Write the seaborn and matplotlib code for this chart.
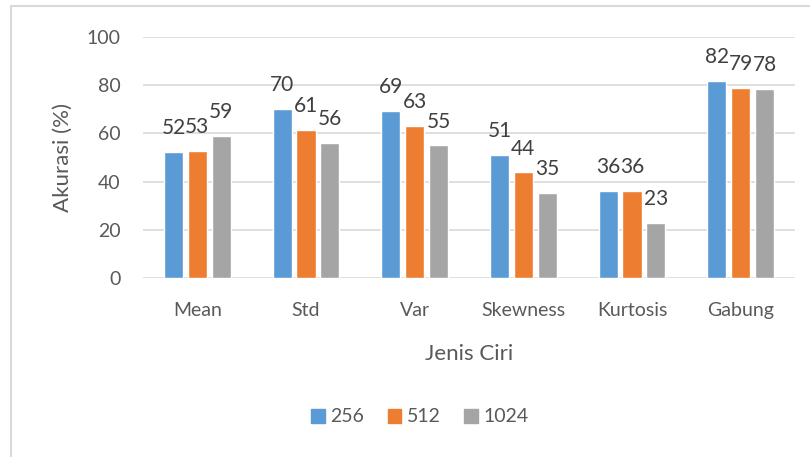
import pandas as pd
import matplotlib.pyplot as plt
import seaborn as sns
from matplotlib.patches import Rectangle

# Data
jenis_ciri = ['Mean', 'Std', 'Var', 'Skewness', 'Kurtosis', 'Gabung']
akurasi_256 = [52.3, 70.0, 69.4, 51.0, 36.2, 81.8]
akurasi_512 = [52.8, 61.4, 63.0, 43.8, 36.2, 79.0]
akurasi_1024 = [58.9, 56.1, 55.0, 35.2, 22.7, 78.4]
seri = ['256', '512', '1024']
warna = ['#5b9bd5', '#ed7d31', '#a5a5a5']

df = pd.DataFrame({
    'Jenis Ciri': jenis_ciri * 3,
    'Seri': [s for s in seri for _ in jenis_ciri],
    'Akurasi': akurasi_256 + akurasi_512 + akurasi_1024,
})

sns.set_style('white')
plt.rcParams['font.family'] = ['Lato', 'DejaVu Sans']

fig = plt.figure(figsize=(8.1, 4.57), dpi=100)
ax = fig.add_axes([143 / 810, 1 - 278 / 457, 652 / 810, 241 / 457])

sns.barplot(data=df, x='Jenis Ciri', y='Akurasi', hue='Seri', palette=warna,
            saturation=1, width=0.66, gap=0.2, ax=ax, legend=False, zorder=3)

# label data di atas batang
for cont in ax.containers:
    ax.bar_label(cont, labels=[f'{v:.0f}' for v in cont.datavalues],
                 padding=10, fontsize=15, color='#404040')

ax.set_ylim(0, 100)
ax.set_xlim(-0.5, 5.5)
ax.set_yticks(range(0, 101, 20))
ax.grid(axis='y', color='#d9d9d9', linewidth=1.2, zorder=0)
ax.grid(axis='x', visible=False)
for s in ax.spines.values():
    s.set_visible(False)
ax.tick_params(axis='both', length=0, labelsize=14, colors='#595959')
ax.tick_params(axis='y', pad=16)
ax.tick_params(axis='x', pad=17)
ax.set_xlabel('Jenis Ciri', fontsize=16, color='#595959', labelpad=18)
ax.set_ylabel('Akurasi (%)', fontsize=16, color='#595959', labelpad=10)

# legenda
handles = [Rectangle((0, 0), 1, 1, color=c) for c in warna]
fig.legend(handles, seri, loc='center', bbox_to_anchor=(420 / 810, 1 - 417 / 457),
           ncol=3, frameon=False, fontsize=14, handlelength=0.7, handleheight=0.7,
           handletextpad=0.3, columnspacing=1.2, labelcolor='#595959')

# bingkai grafik
fig.patches.append(Rectangle((11 / 810, -0.1), 1.1, 1 - 6 / 457 + 0.1,
                             transform=fig.transFigure, fill=False,
                             edgecolor='#d9d9d9', linewidth=1.5))

fig.savefig('out.png', dpi=100)
